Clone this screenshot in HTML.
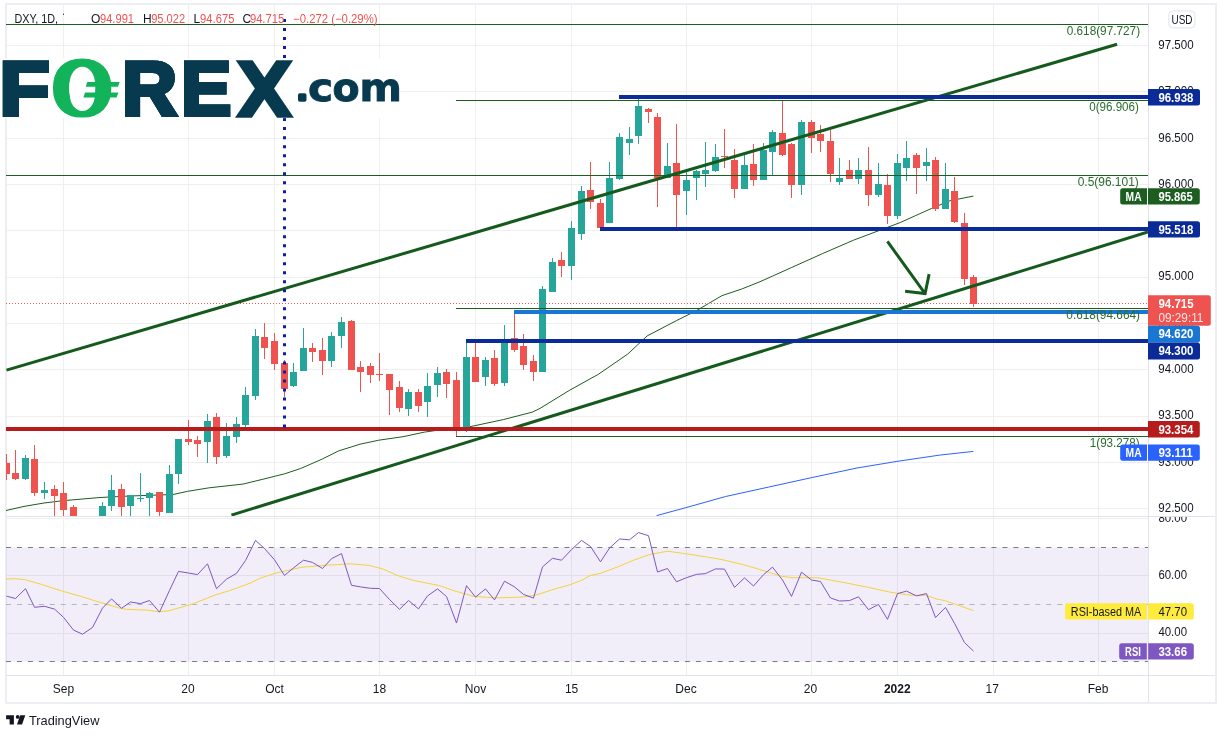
<!DOCTYPE html><html><head><meta charset="utf-8"><title>DXY chart</title><style>
html,body{margin:0;padding:0;background:#fff;}
body{width:1226px;height:738px;overflow:hidden;position:relative;font-family:"Liberation Sans",Arial,sans-serif;}
svg{position:absolute;left:0;top:0;will-change:transform;}
text{font-family:"Liberation Sans",Arial,sans-serif;}
</style></head><body>
<svg width="1226" height="738" viewBox="0 0 1226 738">
<defs><clipPath id="mp"><rect x="6" y="5" width="1142" height="511"/></clipPath><clipPath id="rp"><rect x="6" y="517" width="1142" height="158"/></clipPath></defs>
<rect x="5" y="3" width="1212" height="701" fill="#eceef3"/><rect x="7" y="5" width="1208" height="697" fill="#fff"/><rect x="1215" y="3" width="2" height="701" fill="#eceef3"/>
<path d="M63.5 5V516M63.5 517V675M188.5 5V516M188.5 517V675M274.5 5V516M274.5 517V675M379.5 5V516M379.5 517V675M475.5 5V516M475.5 517V675M571.5 5V516M571.5 517V675M686.5 5V516M686.5 517V675M811.5 5V516M811.5 517V675M897.5 5V516M897.5 517V675M993.5 5V516M993.5 517V675M1098.5 5V516M1098.5 517V675M6 45.5H1148M6 91.5H1148M6 138.5H1148M6 184.5H1148M6 230.5H1148M6 277.5H1148M6 323.5H1148M6 369.5H1148M6 416.5H1148M6 462.5H1148M6 508.5H1148M6 518.5H1148M6 575.5H1148M6 633.5H1148" stroke="#efefef" stroke-width="1" fill="none"/>
<rect x="6" y="547.5" width="1142" height="114" fill="#7e57c2" fill-opacity="0.1"/>
<path d="M6 547.5H1148M6 661.5H1148" stroke="#787b86" stroke-width="1" stroke-dasharray="5 5.95" fill="none"/>
<path d="M6 604.5H1148" stroke="#787b86" stroke-opacity="0.5" stroke-width="1" stroke-dasharray="5 5.95" fill="none"/>
<path d="M6 516.5H1215M6 675.5H1215M1148.5 5V702" stroke="#e0e3eb" stroke-width="1" fill="none"/>
<g clip-path="url(#mp)" fill="none">
<polyline points="6,510.5 24,506.4 44,503 63,500.7 100,497.5 130,496 173,494.5 187.7,491.3 209.2,487.8 242.9,484.1 263.1,479.2 284.6,473.8 300.7,468.5 322.3,459 338.4,451 360,444.2 378.8,440.2 403,436.7 424.6,432.1 443.4,429.4 470,426.7 503.3,419.6 532.4,412.1 540,408.4 569.2,390.5 598.5,374.2 627.7,354.1 647.2,335.9 676.5,320.6 696,310.9 722,295.6 741.5,289.1 760,281.7 772.5,276.1 791.2,267.7 822.3,253.7 853.5,240.2 881.6,229.6 900.3,222.5 931.4,208.5 950.1,200.7 973.4,196.1" stroke="#1b5e20" stroke-width="1"/>
<polyline points="656.6,515.6 685.7,507.7 725.6,496.5 768.5,487.1 811.3,477.7 857,468 896.9,461.4 939.7,455.1 973.4,451.4" stroke="#2962ff" stroke-width="1"/>
</g>
<g clip-path="url(#mp)" shape-rendering="crispEdges">
<rect x="6" y="454" width="1" height="26" fill="#ef5350"/>
<rect x="3" y="463" width="7" height="11" fill="#ef5350"/>
<rect x="15" y="450" width="1" height="30" fill="#ef5350"/>
<rect x="12" y="473" width="7" height="6" fill="#ef5350"/>
<rect x="25" y="455" width="1" height="25" fill="#26a69a"/>
<rect x="22" y="458" width="7" height="21" fill="#26a69a"/>
<rect x="34" y="445" width="1" height="51" fill="#ef5350"/>
<rect x="31" y="459" width="7" height="34" fill="#ef5350"/>
<rect x="44" y="482" width="1" height="17" fill="#26a69a"/>
<rect x="41" y="490" width="7" height="3" fill="#26a69a"/>
<rect x="54" y="485" width="1" height="37" fill="#ef5350"/>
<rect x="51" y="489" width="7" height="7" fill="#ef5350"/>
<rect x="63" y="482" width="1" height="40" fill="#ef5350"/>
<rect x="60" y="493" width="7" height="17" fill="#ef5350"/>
<rect x="73" y="505" width="1" height="25" fill="#ef5350"/>
<rect x="70" y="507" width="7" height="18" fill="#ef5350"/>
<rect x="102" y="502" width="1" height="28" fill="#26a69a"/>
<rect x="99" y="506" width="7" height="19" fill="#26a69a"/>
<rect x="111" y="475" width="1" height="36" fill="#26a69a"/>
<rect x="108" y="490" width="7" height="16" fill="#26a69a"/>
<rect x="121" y="484" width="1" height="38" fill="#ef5350"/>
<rect x="118" y="489" width="7" height="18" fill="#ef5350"/>
<rect x="130" y="495" width="1" height="21" fill="#26a69a"/>
<rect x="127" y="495" width="7" height="11" fill="#26a69a"/>
<rect x="140" y="473" width="1" height="29" fill="#26a69a"/>
<rect x="137" y="498" width="7" height="1" fill="#26a69a"/>
<rect x="149" y="492" width="1" height="24" fill="#26a69a"/>
<rect x="146" y="493" width="7" height="5" fill="#26a69a"/>
<rect x="159" y="492" width="1" height="24" fill="#ef5350"/>
<rect x="156" y="492" width="7" height="20" fill="#ef5350"/>
<rect x="169" y="465" width="1" height="48" fill="#26a69a"/>
<rect x="166" y="474" width="7" height="39" fill="#26a69a"/>
<rect x="178" y="439" width="1" height="45" fill="#26a69a"/>
<rect x="175" y="439" width="7" height="35" fill="#26a69a"/>
<rect x="188" y="420" width="1" height="25" fill="#ef5350"/>
<rect x="185" y="439" width="7" height="3" fill="#ef5350"/>
<rect x="197" y="436" width="1" height="21" fill="#ef5350"/>
<rect x="194" y="440" width="7" height="4" fill="#ef5350"/>
<rect x="207" y="414" width="1" height="49" fill="#26a69a"/>
<rect x="204" y="421" width="7" height="21" fill="#26a69a"/>
<rect x="216" y="413" width="1" height="51" fill="#ef5350"/>
<rect x="213" y="417" width="7" height="40" fill="#ef5350"/>
<rect x="226" y="423" width="1" height="35" fill="#26a69a"/>
<rect x="223" y="436" width="7" height="20" fill="#26a69a"/>
<rect x="236" y="417" width="1" height="26" fill="#26a69a"/>
<rect x="233" y="424" width="7" height="13" fill="#26a69a"/>
<rect x="245" y="387" width="1" height="40" fill="#26a69a"/>
<rect x="242" y="395" width="7" height="30" fill="#26a69a"/>
<rect x="255" y="329" width="1" height="71" fill="#26a69a"/>
<rect x="252" y="336" width="7" height="60" fill="#26a69a"/>
<rect x="264" y="323" width="1" height="36" fill="#ef5350"/>
<rect x="261" y="337" width="7" height="11" fill="#ef5350"/>
<rect x="274" y="333" width="1" height="37" fill="#ef5350"/>
<rect x="271" y="341" width="7" height="23" fill="#ef5350"/>
<rect x="284" y="360" width="1" height="37" fill="#ef5350"/>
<rect x="281" y="363" width="7" height="26" fill="#ef5350"/>
<rect x="293" y="363" width="1" height="24" fill="#26a69a"/>
<rect x="290" y="372" width="7" height="14" fill="#26a69a"/>
<rect x="303" y="328" width="1" height="43" fill="#26a69a"/>
<rect x="300" y="348" width="7" height="23" fill="#26a69a"/>
<rect x="312" y="343" width="1" height="19" fill="#ef5350"/>
<rect x="309" y="348" width="7" height="4" fill="#ef5350"/>
<rect x="322" y="338" width="1" height="37" fill="#ef5350"/>
<rect x="319" y="350" width="7" height="11" fill="#ef5350"/>
<rect x="331" y="332" width="1" height="35" fill="#26a69a"/>
<rect x="328" y="336" width="7" height="25" fill="#26a69a"/>
<rect x="341" y="317" width="1" height="31" fill="#26a69a"/>
<rect x="338" y="322" width="7" height="14" fill="#26a69a"/>
<rect x="351" y="320" width="1" height="50" fill="#ef5350"/>
<rect x="348" y="321" width="7" height="49" fill="#ef5350"/>
<rect x="360" y="361" width="1" height="31" fill="#ef5350"/>
<rect x="357" y="367" width="7" height="5" fill="#ef5350"/>
<rect x="370" y="363" width="1" height="20" fill="#ef5350"/>
<rect x="367" y="366" width="7" height="9" fill="#ef5350"/>
<rect x="379" y="353" width="1" height="28" fill="#ef5350"/>
<rect x="376" y="374" width="7" height="1" fill="#ef5350"/>
<rect x="389" y="374" width="1" height="41" fill="#ef5350"/>
<rect x="386" y="374" width="7" height="16" fill="#ef5350"/>
<rect x="399" y="381" width="1" height="31" fill="#ef5350"/>
<rect x="396" y="387" width="7" height="21" fill="#ef5350"/>
<rect x="408" y="389" width="1" height="27" fill="#26a69a"/>
<rect x="405" y="392" width="7" height="17" fill="#26a69a"/>
<rect x="418" y="389" width="1" height="23" fill="#ef5350"/>
<rect x="415" y="392" width="7" height="14" fill="#ef5350"/>
<rect x="427" y="373" width="1" height="44" fill="#26a69a"/>
<rect x="424" y="386" width="7" height="16" fill="#26a69a"/>
<rect x="437" y="367" width="1" height="30" fill="#26a69a"/>
<rect x="434" y="373" width="7" height="12" fill="#26a69a"/>
<rect x="446" y="369" width="1" height="29" fill="#ef5350"/>
<rect x="443" y="372" width="7" height="12" fill="#ef5350"/>
<rect x="456" y="372" width="1" height="64" fill="#ef5350"/>
<rect x="453" y="380" width="7" height="49" fill="#ef5350"/>
<rect x="466" y="342" width="1" height="90" fill="#26a69a"/>
<rect x="463" y="357" width="7" height="72" fill="#26a69a"/>
<rect x="475" y="342" width="1" height="40" fill="#ef5350"/>
<rect x="472" y="357" width="7" height="25" fill="#ef5350"/>
<rect x="485" y="357" width="1" height="29" fill="#26a69a"/>
<rect x="482" y="360" width="7" height="17" fill="#26a69a"/>
<rect x="494" y="350" width="1" height="36" fill="#ef5350"/>
<rect x="491" y="358" width="7" height="26" fill="#ef5350"/>
<rect x="504" y="325" width="1" height="61" fill="#26a69a"/>
<rect x="501" y="342" width="7" height="41" fill="#26a69a"/>
<rect x="514" y="311" width="1" height="41" fill="#ef5350"/>
<rect x="511" y="338" width="7" height="12" fill="#ef5350"/>
<rect x="523" y="334" width="1" height="36" fill="#ef5350"/>
<rect x="520" y="346" width="7" height="19" fill="#ef5350"/>
<rect x="533" y="355" width="1" height="26" fill="#ef5350"/>
<rect x="530" y="361" width="7" height="11" fill="#ef5350"/>
<rect x="542" y="286" width="1" height="86" fill="#26a69a"/>
<rect x="539" y="289" width="7" height="83" fill="#26a69a"/>
<rect x="552" y="258" width="1" height="34" fill="#26a69a"/>
<rect x="549" y="262" width="7" height="30" fill="#26a69a"/>
<rect x="561" y="252" width="1" height="25" fill="#ef5350"/>
<rect x="558" y="260" width="7" height="6" fill="#ef5350"/>
<rect x="571" y="221" width="1" height="59" fill="#26a69a"/>
<rect x="568" y="228" width="7" height="38" fill="#26a69a"/>
<rect x="581" y="186" width="1" height="54" fill="#26a69a"/>
<rect x="578" y="191" width="7" height="43" fill="#26a69a"/>
<rect x="590" y="162" width="1" height="47" fill="#ef5350"/>
<rect x="587" y="190" width="7" height="12" fill="#ef5350"/>
<rect x="600" y="199" width="1" height="29" fill="#ef5350"/>
<rect x="597" y="203" width="7" height="25" fill="#ef5350"/>
<rect x="609" y="162" width="1" height="61" fill="#26a69a"/>
<rect x="606" y="178" width="7" height="45" fill="#26a69a"/>
<rect x="619" y="133" width="1" height="47" fill="#26a69a"/>
<rect x="616" y="137" width="7" height="42" fill="#26a69a"/>
<rect x="629" y="127" width="1" height="28" fill="#26a69a"/>
<rect x="626" y="139" width="7" height="4" fill="#26a69a"/>
<rect x="638" y="99" width="1" height="45" fill="#26a69a"/>
<rect x="635" y="106" width="7" height="30" fill="#26a69a"/>
<rect x="648" y="108" width="1" height="15" fill="#ef5350"/>
<rect x="645" y="109" width="7" height="3" fill="#ef5350"/>
<rect x="657" y="113" width="1" height="94" fill="#ef5350"/>
<rect x="654" y="117" width="7" height="61" fill="#ef5350"/>
<rect x="667" y="143" width="1" height="35" fill="#26a69a"/>
<rect x="664" y="166" width="7" height="12" fill="#26a69a"/>
<rect x="676" y="124" width="1" height="103" fill="#ef5350"/>
<rect x="673" y="163" width="7" height="32" fill="#ef5350"/>
<rect x="686" y="172" width="1" height="43" fill="#26a69a"/>
<rect x="683" y="180" width="7" height="11" fill="#26a69a"/>
<rect x="696" y="170" width="1" height="30" fill="#26a69a"/>
<rect x="693" y="171" width="7" height="7" fill="#26a69a"/>
<rect x="705" y="142" width="1" height="45" fill="#26a69a"/>
<rect x="702" y="170" width="7" height="4" fill="#26a69a"/>
<rect x="715" y="144" width="1" height="28" fill="#26a69a"/>
<rect x="712" y="157" width="7" height="14" fill="#26a69a"/>
<rect x="724" y="129" width="1" height="39" fill="#ef5350"/>
<rect x="721" y="156" width="7" height="1" fill="#ef5350"/>
<rect x="734" y="149" width="1" height="49" fill="#ef5350"/>
<rect x="731" y="160" width="7" height="29" fill="#ef5350"/>
<rect x="744" y="155" width="1" height="34" fill="#26a69a"/>
<rect x="741" y="165" width="7" height="24" fill="#26a69a"/>
<rect x="753" y="144" width="1" height="42" fill="#ef5350"/>
<rect x="750" y="164" width="7" height="16" fill="#ef5350"/>
<rect x="763" y="143" width="1" height="37" fill="#26a69a"/>
<rect x="760" y="150" width="7" height="30" fill="#26a69a"/>
<rect x="772" y="130" width="1" height="45" fill="#26a69a"/>
<rect x="769" y="132" width="7" height="20" fill="#26a69a"/>
<rect x="782" y="101" width="1" height="55" fill="#ef5350"/>
<rect x="779" y="133" width="7" height="22" fill="#ef5350"/>
<rect x="791" y="143" width="1" height="55" fill="#ef5350"/>
<rect x="788" y="144" width="7" height="41" fill="#ef5350"/>
<rect x="801" y="120" width="1" height="75" fill="#26a69a"/>
<rect x="798" y="122" width="7" height="63" fill="#26a69a"/>
<rect x="811" y="120" width="1" height="33" fill="#ef5350"/>
<rect x="808" y="122" width="7" height="16" fill="#ef5350"/>
<rect x="820" y="125" width="1" height="27" fill="#ef5350"/>
<rect x="817" y="134" width="7" height="7" fill="#ef5350"/>
<rect x="830" y="130" width="1" height="52" fill="#ef5350"/>
<rect x="827" y="141" width="7" height="33" fill="#ef5350"/>
<rect x="839" y="158" width="1" height="27" fill="#26a69a"/>
<rect x="836" y="178" width="7" height="4" fill="#26a69a"/>
<rect x="849" y="160" width="1" height="19" fill="#ef5350"/>
<rect x="846" y="170" width="7" height="9" fill="#ef5350"/>
<rect x="858" y="158" width="1" height="26" fill="#26a69a"/>
<rect x="855" y="170" width="7" height="9" fill="#26a69a"/>
<rect x="868" y="147" width="1" height="59" fill="#ef5350"/>
<rect x="865" y="170" width="7" height="25" fill="#ef5350"/>
<rect x="878" y="163" width="1" height="34" fill="#26a69a"/>
<rect x="875" y="184" width="7" height="11" fill="#26a69a"/>
<rect x="887" y="174" width="1" height="50" fill="#ef5350"/>
<rect x="884" y="185" width="7" height="31" fill="#ef5350"/>
<rect x="897" y="154" width="1" height="65" fill="#26a69a"/>
<rect x="894" y="163" width="7" height="53" fill="#26a69a"/>
<rect x="906" y="141" width="1" height="40" fill="#26a69a"/>
<rect x="903" y="158" width="7" height="10" fill="#26a69a"/>
<rect x="916" y="153" width="1" height="41" fill="#ef5350"/>
<rect x="913" y="155" width="7" height="13" fill="#ef5350"/>
<rect x="926" y="148" width="1" height="33" fill="#26a69a"/>
<rect x="923" y="162" width="7" height="4" fill="#26a69a"/>
<rect x="935" y="157" width="1" height="54" fill="#ef5350"/>
<rect x="932" y="160" width="7" height="49" fill="#ef5350"/>
<rect x="945" y="163" width="1" height="46" fill="#26a69a"/>
<rect x="942" y="189" width="7" height="20" fill="#26a69a"/>
<rect x="954" y="177" width="1" height="46" fill="#ef5350"/>
<rect x="951" y="191" width="7" height="31" fill="#ef5350"/>
<rect x="964" y="213" width="1" height="72" fill="#ef5350"/>
<rect x="961" y="223" width="7" height="56" fill="#ef5350"/>
<rect x="973" y="275" width="1" height="32" fill="#ef5350"/>
<rect x="970" y="277" width="7" height="27" fill="#ef5350"/>
</g>
<g clip-path="url(#mp)" fill="none">
<path d="M6 24.5H1148" stroke="#1b5e20" stroke-width="1"/>
<path d="M456 100.5H1148" stroke="#1b5e20" stroke-width="1"/>
<path d="M6 175.5H1148" stroke="#1b5e20" stroke-width="1"/>
<path d="M456 308.5H1148" stroke="#1b5e20" stroke-width="1"/>
<path d="M456 436.5H1148" stroke="#1b5e20" stroke-width="1"/>
<path d="M6 303.5H1148" stroke="#ef5350" stroke-width="1" stroke-dasharray="1 2"/>
<path d="M6.5 370.1L1117.1 44.2" stroke="#145a1c" stroke-width="3"/>
<path d="M231.4 515.1L1148 232" stroke="#145a1c" stroke-width="3"/>
<path d="M887.4 241.4L925.1 293.6M905.1 291.2L925.1 293.6L929.1 274.1" stroke="#145a1c" stroke-width="3" stroke-linejoin="miter"/>
<g shape-rendering="crispEdges">
<rect x="619" y="95" width="529" height="4" fill="#0b2b99"/>
<rect x="600" y="227" width="548" height="4" fill="#0b2b99"/>
<rect x="514" y="310" width="634" height="4" fill="#1976d2"/>
<rect x="466" y="339" width="682" height="4" fill="#0b2b99"/>
<rect x="6" y="427" width="1142" height="4" fill="#b71c1c"/>
</g>
<path d="M284.5 19V428" stroke="#0d1f9c" stroke-width="3" stroke-dasharray="3 6.01"/>
</g>
<g clip-path="url(#rp)" fill="none">
<polyline points="5.9,579.1 14.3,578.7 24.5,579.5 40.8,584.2 63.2,591.4 81.6,596.5 93.8,600.5 120.3,608.3 126.4,609.3 146.8,610.1 159.1,611.8 169.3,610.7 193.7,603.6 214.1,595.4 230.4,590.4 250,583.2 260.4,578.1 274.7,573.4 301.2,567.3 325.6,565.3 350.1,563.8 368.5,565.3 382.7,568.9 399,576.1 415.4,580.8 439.8,585.7 456.2,591.4 474.5,596.5 496.3,597.9 520.8,597.1 535.1,595.4 551.4,590 569.7,584.8 582,580.2 590.1,575.5 600.3,573.4 618.7,566.5 632.9,560.4 649.2,554.7 667.6,551.2 692.1,554.7 720,559.2 741.2,564.1 753.9,567.7 781.5,576.2 792.1,577.7 817.6,577.7 847.3,583.2 868.5,587.4 889.7,592.1 910.9,595.3 925.7,595.3 936.3,598.9 944.8,600.6 973.4,610.6" stroke="#f2d33c" stroke-width="1"/>
<polyline points="6.5,596.1 15.5,598.5 25.5,588.7 34.5,607.3 44.5,606.3 54.5,609.1 63.5,617.3 73.5,630.1 82.5,634.2 92.5,627.5 102.5,608.1 111.5,598.9 121.5,608.3 130.5,602 140.5,603.6 149.5,600.5 159.5,612.2 169.5,590.4 178.5,571.4 188.5,573 197.5,574.6 207.5,563.8 216.5,588.7 226.5,579.1 236.5,573.4 245.5,560.5 255.5,540.4 264.5,548.5 274.5,559.8 284.5,575.5 293.5,567.9 303.5,560.2 312.5,562.4 322.5,568.5 331.5,558.7 341.5,553.6 351.5,585.3 360.5,586.9 370.5,588.3 379.5,588.5 389.5,599.5 399.5,609.3 408.5,600.5 418.5,608.9 427.5,595.9 437.5,588.9 446.5,596.5 456.5,623 466.5,585.7 475.5,597.1 485.5,588.9 494.5,599.9 504.5,581.2 514.5,586.9 523.5,594.4 533.5,598.1 542.5,566.9 552.5,558.3 561.5,560.2 571.5,549.6 581.5,540.4 590.5,546.5 600.5,561.8 609.5,548.1 619.5,539 629.5,539.8 638.5,532.6 648.5,535.7 657.5,572 667.5,568.5 676.5,581.8 686.5,577.7 696.5,574.4 705.5,573.6 715.5,568.9 724.5,569.1 734.5,587.4 744.5,577.9 753.5,586 763.5,574.7 772.5,567.1 782.5,580 791.5,596.4 801.5,572.2 811.5,580 820.5,581.5 830.5,598 839.5,601 849.5,600.6 858.5,596.8 868.5,609.7 878.5,604.4 887.5,619.3 897.5,593.6 906.5,591.1 916.5,595.9 926.5,593.6 935.5,617.6 945.5,607.4 954.5,623.3 964.5,642.6 973.5,651.1" stroke="#7e57c2" stroke-width="1"/>
</g>
<rect x="0" y="58.3" width="400.5" height="59.8" fill="#fff"/>
<g>
<text transform="translate(-0.62 114.5) scale(1.0844 1)" style="font-family:'Liberation Sans',sans-serif" font-size="75.73" font-weight="bold" fill="#073a4e" stroke="#073a4e" stroke-width="4" stroke-linejoin="miter">F</text>
<text transform="translate(-0.62 114.9) scale(1.0844 1)" style="font-family:'Liberation Sans',sans-serif" font-size="75.73" font-weight="bold" fill="#073a4e" stroke="#073a4e" stroke-width="4" stroke-linejoin="miter">F</text>
<text transform="translate(-0.62 115.3) scale(1.0844 1)" style="font-family:'Liberation Sans',sans-serif" font-size="75.73" font-weight="bold" fill="#073a4e" stroke="#073a4e" stroke-width="4" stroke-linejoin="miter">F</text>
<text transform="translate(49.7 116.22) scale(0.9963 1)" style="font-family:'DejaVu Sans',sans-serif" font-size="76.55" font-weight="bold" fill="#13b35b" stroke="#13b35b" stroke-width="1.2" stroke-linejoin="miter">O</text>
<text transform="translate(121.91 114.5) scale(1.0063 1)" style="font-family:'Liberation Sans',sans-serif" font-size="75.73" font-weight="bold" fill="#073a4e" stroke="#073a4e" stroke-width="4" stroke-linejoin="miter">R</text>
<text transform="translate(121.91 114.9) scale(1.0063 1)" style="font-family:'Liberation Sans',sans-serif" font-size="75.73" font-weight="bold" fill="#073a4e" stroke="#073a4e" stroke-width="4" stroke-linejoin="miter">R</text>
<text transform="translate(121.91 115.3) scale(1.0063 1)" style="font-family:'Liberation Sans',sans-serif" font-size="75.73" font-weight="bold" fill="#073a4e" stroke="#073a4e" stroke-width="4" stroke-linejoin="miter">R</text>
<text transform="translate(181.05 114.5) scale(0.9938 1)" style="font-family:'Liberation Sans',sans-serif" font-size="75.73" font-weight="bold" fill="#073a4e" stroke="#073a4e" stroke-width="4" stroke-linejoin="miter">E</text>
<text transform="translate(181.05 114.9) scale(0.9938 1)" style="font-family:'Liberation Sans',sans-serif" font-size="75.73" font-weight="bold" fill="#073a4e" stroke="#073a4e" stroke-width="4" stroke-linejoin="miter">E</text>
<text transform="translate(181.05 115.3) scale(0.9938 1)" style="font-family:'Liberation Sans',sans-serif" font-size="75.73" font-weight="bold" fill="#073a4e" stroke="#073a4e" stroke-width="4" stroke-linejoin="miter">E</text>
<text transform="translate(235.04 116.8) scale(0.9996 1)" style="font-family:'DejaVu Sans',sans-serif" font-size="76.54" font-weight="bold" fill="#073a4e" stroke="#073a4e" stroke-width="1.6" stroke-linejoin="miter">X</text>
<text transform="translate(297.04 99.7) scale(1.0683 1)" style="font-family:'DejaVu Sans',sans-serif" font-size="25.93" font-weight="bold" fill="#073a4e" stroke="#073a4e" stroke-width="3.4" stroke-linejoin="round">.</text>
<text transform="translate(308.12 100.84) scale(1.0747 1)" style="font-family:'DejaVu Sans',sans-serif" font-size="39.36" font-weight="bold" fill="#073a4e" stroke="#073a4e" stroke-width="1" stroke-linejoin="miter">c</text>
<text transform="translate(332.41 100.84) scale(1.0017 1)" style="font-family:'DejaVu Sans',sans-serif" font-size="39.36" font-weight="bold" fill="#073a4e" stroke="#073a4e" stroke-width="1" stroke-linejoin="miter">o</text>
<text transform="translate(359.44 100.9) scale(1.0302 1)" style="font-family:'DejaVu Sans',sans-serif" font-size="39.46" font-weight="bold" fill="#073a4e" stroke="#073a4e" stroke-width="1" stroke-linejoin="miter">m</text>
<rect x="69.9" y="66.8" width="24.9" height="44.2" rx="12.4" ry="16" fill="#fff"/>
<polygon points="87.2,82 119.7,82 118,86.8 85.7,86.8" fill="#13b35b"/>
<polygon points="85.1,92.5 118.4,92.5 116.6,97.5 83.4,97.5" fill="#13b35b"/>
</g>
<text x="14.4" y="22.7" font-size="12" fill="#131722" textLength="43.6" lengthAdjust="spacingAndGlyphs">DXY, 1D,</text>
<rect x="63" y="13.5" width="1" height="1.5" fill="#555"/>
<text x="91" y="22.7" font-size="12" fill="#131722">O</text>
<text x="100" y="22.7" font-size="12" fill="#ef5350" textLength="34" lengthAdjust="spacingAndGlyphs">94.991</text>
<text x="143" y="22.7" font-size="12" fill="#131722">H</text>
<text x="151.2" y="22.7" font-size="12" fill="#ef5350" textLength="33.9" lengthAdjust="spacingAndGlyphs">95.022</text>
<text x="193.6" y="22.7" font-size="12" fill="#131722">L</text>
<text x="200.1" y="22.7" font-size="12" fill="#ef5350" textLength="34.3" lengthAdjust="spacingAndGlyphs">94.675</text>
<text x="242.6" y="22.7" font-size="12" fill="#131722">C</text>
<text x="249.9" y="22.7" font-size="12" fill="#ef5350" textLength="34.3" lengthAdjust="spacingAndGlyphs">94.715</text>
<text x="293.1" y="22.7" font-size="12" fill="#ef5350" textLength="84.4" lengthAdjust="spacingAndGlyphs">−0.272 (−0.29%)</text>
<text x="1066.7" y="34.7" font-size="12" fill="#2a6b2e" textLength="73.4" lengthAdjust="spacingAndGlyphs">0.618(97.727)</text>
<text x="1089.2" y="110.8" font-size="12" fill="#2a6b2e" textLength="49.7" lengthAdjust="spacingAndGlyphs">0(96.906)</text>
<text x="1077.7" y="185.9" font-size="12" fill="#2a6b2e" textLength="61.1" lengthAdjust="spacingAndGlyphs">0.5(96.101)</text>
<text x="1066.3" y="319" font-size="12" fill="#2a6b2e" textLength="73.7" lengthAdjust="spacingAndGlyphs">0.618(94.664)</text>
<text x="1089.8" y="447" font-size="12" fill="#2a6b2e" textLength="49.8" lengthAdjust="spacingAndGlyphs">1(93.278)</text>
<text x="1158.3" y="49" font-size="12" fill="#131722" textLength="35.3" lengthAdjust="spacingAndGlyphs">97.500</text>
<text x="1158.3" y="95.29" font-size="12" fill="#131722" textLength="35.3" lengthAdjust="spacingAndGlyphs">97.000</text>
<text x="1158.3" y="141.58" font-size="12" fill="#131722" textLength="35.3" lengthAdjust="spacingAndGlyphs">96.500</text>
<text x="1158.3" y="187.87" font-size="12" fill="#131722" textLength="35.3" lengthAdjust="spacingAndGlyphs">96.000</text>
<text x="1158.3" y="234.16" font-size="12" fill="#131722" textLength="35.3" lengthAdjust="spacingAndGlyphs">95.500</text>
<text x="1158.3" y="280.45" font-size="12" fill="#131722" textLength="35.3" lengthAdjust="spacingAndGlyphs">95.000</text>
<text x="1158.3" y="326.74" font-size="12" fill="#131722" textLength="35.3" lengthAdjust="spacingAndGlyphs">94.500</text>
<text x="1158.3" y="373.03" font-size="12" fill="#131722" textLength="35.3" lengthAdjust="spacingAndGlyphs">94.000</text>
<text x="1158.3" y="419.32" font-size="12" fill="#131722" textLength="35.3" lengthAdjust="spacingAndGlyphs">93.500</text>
<text x="1158.3" y="465.61" font-size="12" fill="#131722" textLength="35.3" lengthAdjust="spacingAndGlyphs">93.000</text>
<text x="1158.3" y="511.9" font-size="12" fill="#131722" textLength="35.3" lengthAdjust="spacingAndGlyphs">92.500</text>
<svg x="1149" y="517" width="66" height="158" overflow="hidden">
<text x="9.4" y="5.4" font-size="12" fill="#131722" textLength="28.6" lengthAdjust="spacingAndGlyphs">80.00</text>
<text x="9.4" y="62.4" font-size="12" fill="#131722" textLength="28.6" lengthAdjust="spacingAndGlyphs">60.00</text>
<text x="9.4" y="119.4" font-size="12" fill="#131722" textLength="28.6" lengthAdjust="spacingAndGlyphs">40.00</text>
</svg>
<rect x="1168.8" y="10.9" width="26.2" height="17" rx="4" fill="#fff" stroke="#e0e3eb" stroke-width="1"/>
<text x="1182" y="23.6" font-size="12" fill="#131722" text-anchor="middle" textLength="21" lengthAdjust="spacingAndGlyphs">USD</text>
<path d="M1148 89H1197.5Q1200 89 1200 91.5V103Q1200 105.5 1197.5 105.5H1148Z" fill="#0b2b99"/>
<text x="1158.4" y="101.55" font-size="12" fill="#fff" font-weight="bold" textLength="35" lengthAdjust="spacingAndGlyphs">96.938</text>
<path d="M1147 188.2H1122.7Q1120.2 188.2 1120.2 190.7V202Q1120.2 204.5 1122.7 204.5H1147Z" fill="#1b5e20"/>
<text x="1133.6" y="200.7" font-size="12" fill="#fff" text-anchor="middle" font-weight="bold" textLength="16" lengthAdjust="spacingAndGlyphs">MA</text>
<path d="M1148 188.2H1197.3Q1199.8 188.2 1199.8 190.7V202Q1199.8 204.5 1197.3 204.5H1148Z" fill="#1b5e20"/>
<text x="1158.4" y="200.65" font-size="12" fill="#fff" font-weight="bold" textLength="34.3" lengthAdjust="spacingAndGlyphs">95.865</text>
<path d="M1148 221.2H1197.5Q1200 221.2 1200 223.7V235.1Q1200 237.6 1197.5 237.6H1148Z" fill="#0b2b99"/>
<text x="1158.4" y="233.7" font-size="12" fill="#fff" font-weight="bold" textLength="35" lengthAdjust="spacingAndGlyphs">95.518</text>
<path d="M1148 295.2H1208.3Q1210.8 295.2 1210.8 297.7V323.2Q1210.8 325.7 1208.3 325.7H1148Z" fill="#ef5350"/>
<text x="1158.4" y="307.6" font-size="12" fill="#fff" font-weight="bold" textLength="35.2" lengthAdjust="spacingAndGlyphs">94.715</text>
<text x="1158.4" y="321.7" font-size="12" fill="#fde7e7" textLength="45" lengthAdjust="spacingAndGlyphs">09:29:11</text>
<path d="M1148 325.7H1197.5Q1200 325.7 1200 328.2V340Q1200 342.5 1197.5 342.5H1148Z" fill="#1976d2"/>
<text x="1158.4" y="338.4" font-size="12" fill="#fff" font-weight="bold" textLength="35" lengthAdjust="spacingAndGlyphs">94.620</text>
<path d="M1148 342.5H1197.5Q1200 342.5 1200 345V357Q1200 359.5 1197.5 359.5H1148Z" fill="#0b2b99"/>
<text x="1158.4" y="355.3" font-size="12" fill="#fff" font-weight="bold" textLength="35" lengthAdjust="spacingAndGlyphs">94.300</text>
<path d="M1148 421.1H1197.3Q1199.8 421.1 1199.8 423.6V435Q1199.8 437.5 1197.3 437.5H1148Z" fill="#b71c1c"/>
<text x="1158.4" y="433.6" font-size="12" fill="#fff" font-weight="bold" textLength="35" lengthAdjust="spacingAndGlyphs">93.354</text>
<path d="M1147 444.4H1122.7Q1120.2 444.4 1120.2 446.9V458.2Q1120.2 460.7 1122.7 460.7H1147Z" fill="#2962ff"/>
<text x="1133.6" y="456.9" font-size="12" fill="#fff" text-anchor="middle" font-weight="bold" textLength="16" lengthAdjust="spacingAndGlyphs">MA</text>
<path d="M1148 444.4H1197.3Q1199.8 444.4 1199.8 446.9V458.2Q1199.8 460.7 1197.3 460.7H1148Z" fill="#2962ff"/>
<text x="1158.4" y="456.85" font-size="12" fill="#fff" font-weight="bold" textLength="34.3" lengthAdjust="spacingAndGlyphs">93.111</text>
<path d="M1146.8 603.2H1067.6Q1065.1 603.2 1065.1 605.7V617.1Q1065.1 619.6 1067.6 619.6H1146.8Z" fill="#ffeb3b"/>
<text x="1070.8" y="615.7" font-size="12" fill="#131722" textLength="70.5" lengthAdjust="spacingAndGlyphs">RSI-based MA</text>
<path d="M1148.2 603.2H1191.3Q1193.8 603.2 1193.8 605.7V617.1Q1193.8 619.6 1191.3 619.6H1148.2Z" fill="#ffeb3b"/>
<text x="1158.4" y="615.7" font-size="12" fill="#131722" textLength="28.6" lengthAdjust="spacingAndGlyphs">47.70</text>
<path d="M1146.8 643.2H1121.7Q1119.2 643.2 1119.2 645.7V657Q1119.2 659.5 1121.7 659.5H1146.8Z" fill="#7e57c2"/>
<text x="1133" y="655.6" font-size="12" fill="#fff" text-anchor="middle" font-weight="bold" textLength="15.8" lengthAdjust="spacingAndGlyphs">RSI</text>
<path d="M1148.2 643.2H1191.3Q1193.8 643.2 1193.8 645.7V657Q1193.8 659.5 1191.3 659.5H1148.2Z" fill="#7e57c2"/>
<text x="1158.4" y="655.65" font-size="12" fill="#fff" font-weight="bold" textLength="28.6" lengthAdjust="spacingAndGlyphs">33.66</text>
<text x="63.5" y="693" font-size="12" fill="#131722" text-anchor="middle">Sep</text>
<text x="188" y="693" font-size="12" fill="#131722" text-anchor="middle">20</text>
<text x="274.5" y="693" font-size="12" fill="#131722" text-anchor="middle">Oct</text>
<text x="379.5" y="693" font-size="12" fill="#131722" text-anchor="middle">18</text>
<text x="475.5" y="693" font-size="12" fill="#131722" text-anchor="middle">Nov</text>
<text x="571.6" y="693" font-size="12" fill="#131722" text-anchor="middle">15</text>
<text x="686" y="693" font-size="12" fill="#131722" text-anchor="middle">Dec</text>
<text x="810.5" y="693" font-size="12" fill="#131722" text-anchor="middle">20</text>
<text x="992.2" y="693" font-size="12" fill="#131722" text-anchor="middle">17</text>
<text x="1098" y="693" font-size="12" fill="#131722" text-anchor="middle">Feb</text>
<text x="897.3" y="693" font-size="12" fill="#131722" text-anchor="middle" font-weight="bold">2022</text>
<path d="M6.1 715.3H13.9V724.6H9.6V719.2H6.1Z" fill="#131722"/>
<circle cx="17.7" cy="716.9" r="1.9" fill="#131722"/>
<path d="M20.2 715.3H25.3L22 724.6H17Z" fill="#131722"/>
<text x="28.9" y="724.6" font-size="12.8" fill="#131722" textLength="70.5" lengthAdjust="spacingAndGlyphs">TradingView</text>
</svg></body></html>
